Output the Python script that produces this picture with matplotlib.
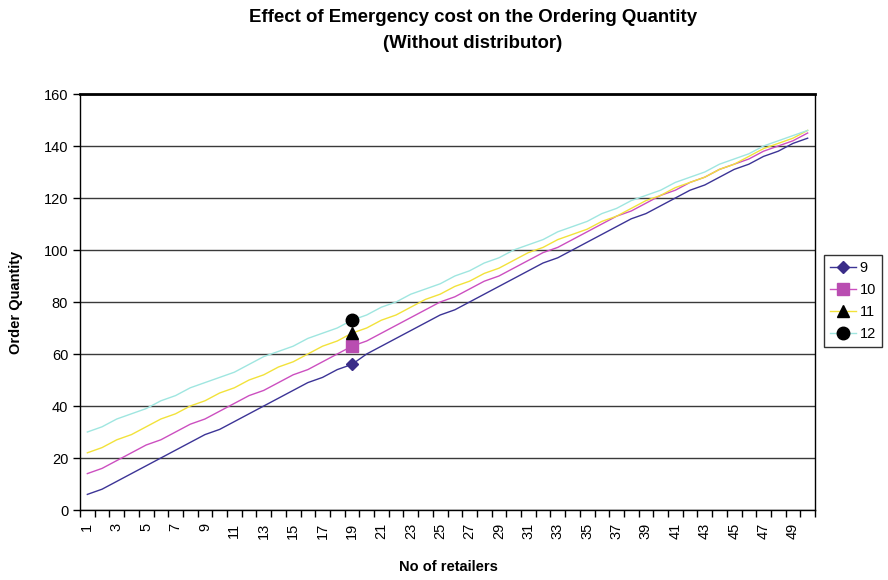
import matplotlib
matplotlib.use("Agg")
import matplotlib.pyplot as plt
from matplotlib.ticker import FixedLocator, NullFormatter, FixedFormatter

plt.rcParams['font.family'] = ['Liberation Sans', 'DejaVu Sans']

retailers = list(range(1, 51))
series_names = ["9", "10", "11", "12"]

s9 = [6, 8, 11, 14, 17, 20, 23, 26, 29, 31,
      34, 37, 40, 43, 46, 49, 51, 54, 56, 60,
      63, 66, 69, 72, 75, 77, 80, 83, 86, 89,
      92, 95, 97, 100, 103, 106, 109, 112, 114, 117,
      120, 123, 125, 128, 131, 133, 136, 138, 141, 143]
s10 = [14, 16, 19, 22, 25, 27, 30, 33, 35, 38,
       41, 44, 46, 49, 52, 54, 57, 60, 63, 65,
       68, 71, 74, 77, 80, 82, 85, 88, 90, 93,
       96, 99, 101, 104, 107, 110, 113, 115, 118, 121,
       123, 126, 128, 131, 133, 135, 138, 140, 142, 145]
s11 = [22, 24, 27, 29, 32, 35, 37, 40, 42, 45,
       47, 50, 52, 55, 57, 60, 63, 65, 68, 70,
       73, 75, 78, 81, 83, 86, 88, 91, 93, 96,
       99, 101, 104, 106, 108, 111, 113, 116, 119, 121,
       124, 126, 128, 131, 133, 136, 139, 141, 143, 146]
s12 = [30, 32, 35, 37, 39, 42, 44, 47, 49, 51,
       53, 56, 59, 61, 63, 66, 68, 70, 73, 75,
       78, 80, 83, 85, 87, 90, 92, 95, 97, 100,
       102, 104, 107, 109, 111, 114, 116, 119, 121, 123,
       126, 128, 130, 133, 135, 137, 140, 142, 144, 146]
marked_retailer = 19

y_ticks = [0, 20, 40, 60, 80, 100, 120, 140, 160]
x_tick_labels = [str(i) for i in range(1, 51, 2)]

line_colors = ['#3C3496', '#CC4FC0', '#F2E23A', '#9FE6E0']
marker_colors = ['#3A2C88', '#B94DB1', '#000000', '#000000']
markers = ['D', 's', '^', 'o']
msizes = [6.5, 9, 9, 9]

fig = plt.figure(figsize=(8.88, 5.8), dpi=100)
ax = fig.add_axes([80/888, 1-510/580, (815-80)/888, (510-94)/580])

idx = retailers.index(marked_retailer)
for name, vals, lc, mc, mk, ms in zip(series_names, [s9, s10, s11, s12],
                                      line_colors, marker_colors, markers, msizes):
    ax.plot(retailers, vals, color=lc, lw=1.0, marker=mk, markersize=ms,
            markerfacecolor=mc, markeredgecolor=mc, markevery=[idx], label=name,
            zorder=3)

ax.set_xlim(0.5, 50.5)
ax.set_ylim(0, 160)
ax.set_yticks(y_ticks)
ax.set_yticklabels([str(v) for v in y_ticks], fontsize=10.5)
ax.yaxis.grid(True, color='#3a3a3a', lw=1.0)
ax.set_axisbelow(True)

ax.xaxis.set_major_locator(FixedLocator([i + 0.5 for i in range(0, 51)]))
ax.xaxis.set_major_formatter(NullFormatter())
ax.xaxis.set_minor_locator(FixedLocator(list(range(1, 51, 2))))
ax.xaxis.set_minor_formatter(FixedFormatter(x_tick_labels))
ax.tick_params(axis='x', which='major', direction='out', length=5, width=1, color='black')
ax.tick_params(axis='x', which='minor', length=0, labelsize=10.5, labelrotation=90, pad=9)
ax.tick_params(axis='y', direction='out', length=5, width=1, color='black')

for side in ['left', 'bottom', 'right']:
    ax.spines[side].set_color('black')
    ax.spines[side].set_linewidth(1.0)
ax.spines['top'].set_color('black')
ax.spines['top'].set_linewidth(2.0)

ax.set_ylabel('Order Quantity', fontsize=10.5, fontweight='bold', labelpad=15)
fig.text(448/888, 1-567/580, 'No of retailers', ha='center', va='center',
         fontsize=10.5, fontweight='bold')
fig.text(473/888, 1-18/580, 'Effect of Emergency cost on the Ordering Quantity',
         ha='center', va='center', fontsize=13.4, fontweight='bold')
fig.text(473/888, 1-43/580, '(Without distributor)',
         ha='center', va='center', fontsize=13.4, fontweight='bold')

leg = fig.legend(loc='upper left', bbox_to_anchor=(824/888, 1-255/580),
                 fontsize=10.5, frameon=True, fancybox=False, edgecolor='black',
                 handlelength=1.8, handletextpad=0.25, borderpad=0.4,
                 labelspacing=0.55, borderaxespad=0)
leg.get_frame().set_linewidth(1.0)

fig.savefig('out.png', dpi=100)
